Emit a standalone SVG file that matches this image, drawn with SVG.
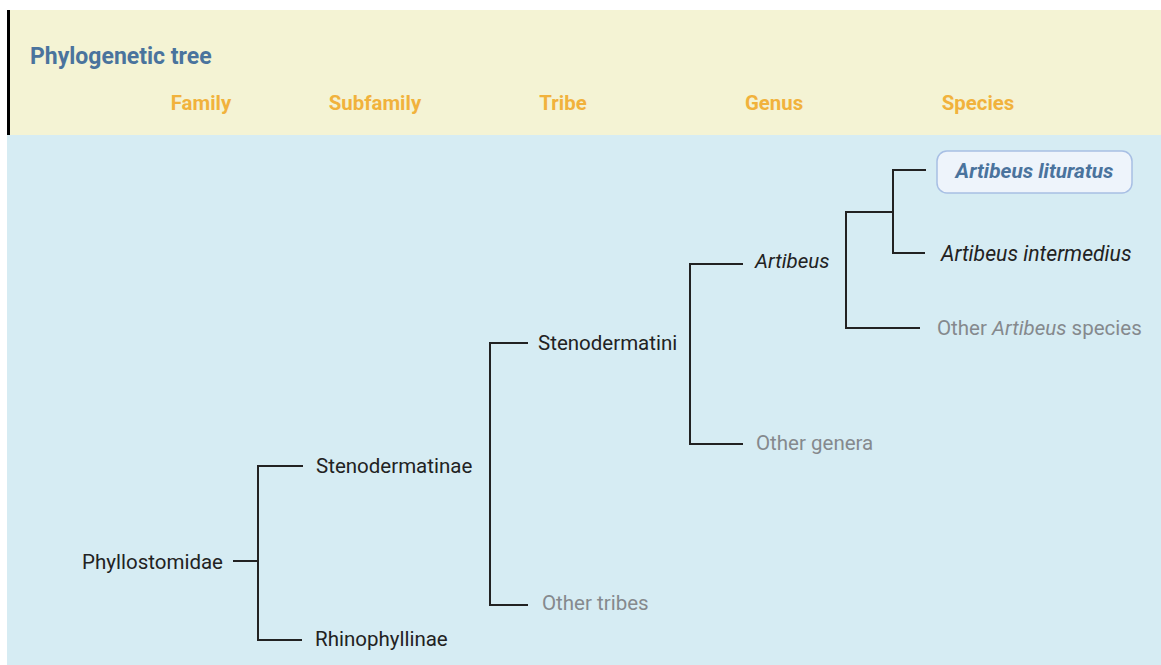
<svg xmlns="http://www.w3.org/2000/svg" width="1161" height="665" viewBox="0 0 1161 665">
<style>
.t{font-family:Roboto,"Liberation Sans",sans-serif;font-size:20.5px;fill:#222;dominant-baseline:central}
.g{fill:#85898d}
.i{font-style:italic}
.b{fill:#4a739d;font-weight:bold}
.h{font-family:Roboto,"Liberation Sans",sans-serif;font-weight:bold;font-size:20.4px;fill:#f1b23c;text-anchor:middle}
.ln{fill:none;stroke:#222;stroke-width:2}
</style>
<rect x="0" y="0" width="1161" height="665" fill="#ffffff"/>
<rect x="7" y="10" width="1154" height="125" fill="#f4f3d4"/>
<rect x="7" y="10" width="3" height="125" fill="#000"/>
<rect x="7" y="135" width="1154" height="530" fill="#d6ecf3"/>
<text x="30" y="64" font-family="Roboto,'Liberation Sans',sans-serif" font-weight="bold" font-size="23" fill="#4a739d">Phylogenetic tree</text>
<text class="h" x="201" y="110">Family</text>
<text class="h" x="375" y="110">Subfamily</text>
<text class="h" x="563" y="110">Tribe</text>
<text class="h" x="774" y="110">Genus</text>
<text class="h" x="978" y="110">Species</text>
<g id="connectors">
<path class="ln" d="M233 561H258M303 466H258V640H302"/>
<path class="ln" d="M528 343H490V605H528"/>
<path class="ln" d="M743 264H690V444H743"/>
<path class="ln" d="M893 212H846V328H920"/>
<path class="ln" d="M926 170H893V253H925"/>
</g>
<g id="phyllostomidae"><text class="t" x="223" y="562" text-anchor="end">Phyllostomidae</text></g>
<g id="stenodermatinae"><text class="t" x="316" y="466">Stenodermatinae</text></g>
<g id="rhinophyllinae"><text class="t" x="315" y="639">Rhinophyllinae</text></g>
<g id="stenodermatini"><text class="t" x="538" y="343">Stenodermatini</text></g>
<g id="other-tribes"><text class="t g" x="542" y="603">Other tribes</text></g>
<g id="artibeus"><text class="t i" x="755" y="261">Artibeus</text></g>
<g id="other-genera"><text class="t g" x="756" y="443">Other genera</text></g>
<g id="artibeus-lituratus">
<rect x="937" y="151" width="195" height="42" rx="10" fill="#eef4fb" stroke="#a8bfe4" stroke-width="1.5"/>
<text class="t i b" x="1034.5" y="171" text-anchor="middle" style="font-size:20.8px">Artibeus lituratus</text>
</g>
<g id="artibeus-intermedius"><text class="t i" x="941" y="253" style="font-size:21.2px">Artibeus intermedius</text></g>
<g id="other-artibeus"><text class="t g" x="937" y="328">Other <tspan font-style="italic">Artibeus</tspan> species</text></g>
</svg>
